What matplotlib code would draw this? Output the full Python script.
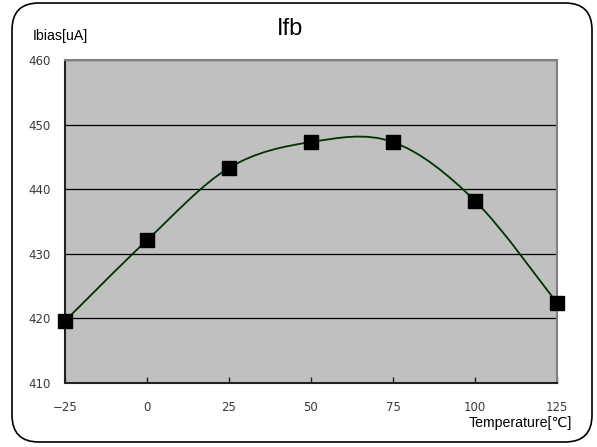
import matplotlib
matplotlib.use("Agg")
import matplotlib.pyplot as plt
from matplotlib.path import Path
from matplotlib.patches import PathPatch, FancyBboxPatch

temps = [-25, 0, 25, 50, 75, 100, 125]
ibias = [419.6, 432.1, 443.3, 447.3, 447.3, 438.2, 422.4]
yticks = [410, 420, 430, 440, 450, 460]
title = "Ifb"
ylabel = "Ibias[uA]"
xlabel = "Temperature[\u2103]"

plt.rcParams['font.family'] = ['Liberation Sans', 'DejaVu Sans']

fig = plt.figure(figsize=(5.97, 4.47), dpi=100)
W, H = 597, 447

# rounded outer border
border = FancyBboxPatch((12 / W, 5 / H), (592 - 12) / W, (444 - 5) / H,
                        boxstyle="round,pad=0,rounding_size=0.045",
                        transform=fig.transFigure, facecolor='white',
                        edgecolor='black', linewidth=1.2, mutation_aspect=W / H,
                        zorder=-5)
fig.patches.append(border)

ax = fig.add_axes([65 / W, 1 - 383 / H, (557 - 65) / W, (383 - 60) / H])
ax.set_zorder(2)
ax.set_facecolor('#C0C0C0')
ax.set_xlim(-25, 125)
ax.set_ylim(410, 460)
ax.set_xticks(temps)
ax.set_xticklabels(['\u221225' if t < 0 else str(t) for t in temps])
ax.set_yticks(yticks)
ax.yaxis.grid(True, color='black', linewidth=0.9)
ax.set_axisbelow(True)

for s in ['top', 'right']:
    ax.spines[s].set_color('#808080')
    ax.spines[s].set_linewidth(1.5)
for s in ['left', 'bottom']:
    ax.spines[s].set_color('#222222')
    ax.spines[s].set_linewidth(1.5)

ax.tick_params(axis='x', direction='in', length=4, width=1, color='#222222',
               labelsize=8.5, labelcolor='#3a3a3a', pad=13)
ax.tick_params(axis='y', length=0, labelsize=8.5, labelcolor='#3a3a3a', pad=10)
for lab in ax.get_xticklabels() + ax.get_yticklabels():
    lab.set_family(['DejaVu Sans'])

# smoothed line (Excel-style Bezier through the data points)
pts = list(zip(temps, ibias))
n = len(pts)
verts = [pts[0]]
codes = [Path.MOVETO]
for i in range(n - 1):
    p0 = pts[i - 1] if i > 0 else pts[i]
    p1 = pts[i]
    p2 = pts[i + 1]
    p3 = pts[i + 2] if i + 2 < n else pts[i + 1]
    c1 = (p1[0] + (p2[0] - p0[0]) / 6, p1[1] + (p2[1] - p0[1]) / 6)
    c2 = (p2[0] - (p3[0] - p1[0]) / 6, p2[1] - (p3[1] - p1[1]) / 6)
    verts += [c1, c2, p2]
    codes += [Path.CURVE4] * 3
ax.add_patch(PathPatch(Path(verts, codes), facecolor='none',
                       edgecolor='#003300', linewidth=1.3, clip_on=False, zorder=3))

ax.plot(temps, ibias, linestyle='none', marker='s', markersize=9.5,
        color='black', clip_on=False, zorder=4)

fig.text(290 / W, 1 - 29 / H, title, ha='center', va='center', fontsize=17)
fig.text(33 / W, 1 - 36 / H, ylabel, ha='left', va='center', fontsize=10.2)
fig.text(572 / W, 1 - 423 / H, xlabel, ha='right', va='center', fontsize=10.2)

fig.savefig('out.png', dpi=100)
